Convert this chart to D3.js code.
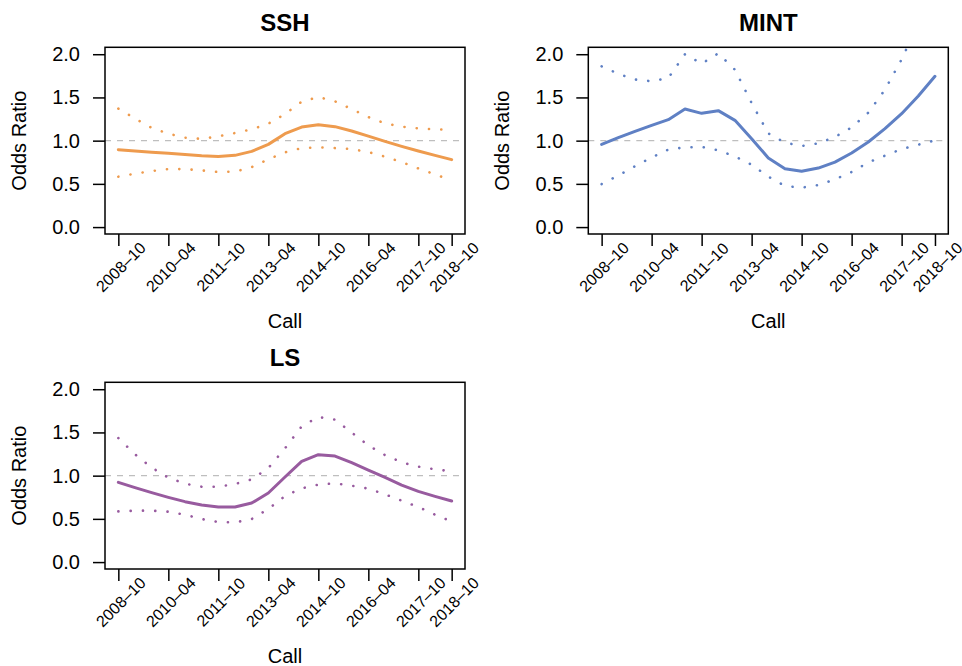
<!DOCTYPE html>
<html lang="en">
<head>
<meta charset="utf-8">
<title>Odds Ratio by Call</title>
<script src="https://cdn.jsdelivr.net/npm/d3@7"></script>
<style>
  body { margin: 0; background: #fff; }
  svg { display: block; font-family: "Liberation Sans", Arial, Helvetica, sans-serif; }
</style>
</head>
<body>
<svg id="chart" width="962" height="666"></svg>
<script>

// calls, every 6 months
const periods = ["2008-10","2009-04","2009-10","2010-04","2010-10","2011-04","2011-10",
  "2012-04","2012-10","2013-04","2013-10","2014-04","2014-10","2015-04","2015-10",
  "2016-04","2016-10","2017-04","2017-10","2018-04","2018-10"];
const tickLabels = ["2008-10","2010-04","2011-10","2013-04","2014-10","2016-04","2017-10","2018-10"];
const yTicks = [0, 0.5, 1, 1.5, 2];

const sshFit   = [0.896,0.880,0.865,0.853,0.841,0.826,0.818,0.830,0.876,0.957,1.081,1.157,1.185,1.162,1.111,1.053,0.992,0.934,0.880,0.830,0.780];
const sshLower = [0.583,0.618,0.648,0.671,0.671,0.656,0.637,0.641,0.694,0.784,0.865,0.914,0.922,0.914,0.903,0.868,0.815,0.752,0.679,0.610,0.540];
const sshUpper = [1.370,1.256,1.148,1.081,1.034,1.020,1.050,1.088,1.131,1.196,1.308,1.451,1.505,1.455,1.366,1.273,1.200,1.162,1.142,1.131,1.127];

const mintFit   = [0.957,1.035,1.108,1.177,1.243,1.366,1.316,1.347,1.235,1.023,0.800,0.676,0.645,0.683,0.752,0.857,0.984,1.139,1.312,1.516,1.744];
const mintLower = [0.498,0.596,0.703,0.805,0.897,0.922,0.928,0.888,0.818,0.722,0.583,0.475,0.456,0.486,0.552,0.637,0.749,0.826,0.903,0.953,1.003];
const mintUpper = [1.860,1.773,1.707,1.687,1.725,2.000,1.890,2.010,1.820,1.435,1.084,0.977,0.938,0.969,1.042,1.154,1.324,1.590,1.940,2.360,2.880];

const lsFit   = [0.922,0.861,0.803,0.749,0.699,0.660,0.637,0.637,0.683,0.799,0.984,1.165,1.243,1.227,1.150,1.065,0.980,0.891,0.818,0.760,0.706];
const lsLower = [0.587,0.595,0.595,0.583,0.548,0.498,0.463,0.459,0.498,0.614,0.764,0.853,0.896,0.911,0.884,0.850,0.784,0.711,0.637,0.549,0.470];
const lsUpper = [1.435,1.247,1.093,0.977,0.907,0.872,0.872,0.903,0.957,1.088,1.316,1.570,1.678,1.648,1.498,1.351,1.238,1.154,1.104,1.073,1.050];

const panels = [
  {name: "SSH",  fit: sshFit,  lo: sshLower,  hi: sshUpper,  col: "#ee9b4e", left: 105,   top: 47.3},
  {name: "MINT", fit: mintFit, lo: mintLower, hi: mintUpper, col: "#5f80c4", left: 588.3, top: 47.3},
  {name: "LS",   fit: lsFit,   lo: lsLower,   hi: lsUpper,   col: "#985b9f", left: 105,   top: 382.3}
];

const boxW = 360, boxH = 186.7;

// "2008-10" -> month number
function toMonth(s) {
  const p = s.split("-");
  return (+p[0]) * 12 + (+p[1]) - 1;
}
const dash = s => s.replace("-", "\u2013");

const svg = d3.select("#chart");

panels.forEach(function(p, pi) {
  const m0 = toMonth(periods[0]), m1 = toMonth(periods[periods.length - 1]);
  const pad = (m1 - m0) * 0.04;
  const x = d3.scaleLinear().domain([m0 - pad, m1 + pad]).range([p.left, p.left + boxW]);
  const y = d3.scaleLinear().domain([-0.08, 2.08]).range([p.top + boxH, p.top]);

  const g = svg.append("g");

  svg.append("clipPath").attr("id", "clip" + pi)
    .append("rect")
    .attr("x", p.left).attr("y", p.top)
    .attr("width", boxW).attr("height", boxH);

  // reference line at 1
  g.append("line")
    .attr("x1", p.left).attr("x2", p.left + boxW)
    .attr("y1", y(1)).attr("y2", y(1))
    .attr("stroke", "#bebebe").attr("stroke-width", 1.3)
    .attr("stroke-dasharray", "6,6");

  const line = d3.line()
    .x((d, i) => x(toMonth(periods[i])))
    .y(d => y(d));

  const plot = g.append("g").attr("clip-path", "url(#clip" + pi + ")");

  [p.lo, p.hi].forEach(function(series) {
    plot.append("path")
      .datum(series)
      .attr("d", line)
      .attr("fill", "none")
      .attr("stroke", p.col)
      .attr("stroke-width", 2.6)
      .attr("stroke-linecap", "round")
      .attr("stroke-dasharray", "0.1,12.2");
  });

  plot.append("path")
    .datum(p.fit)
    .attr("d", line)
    .attr("fill", "none")
    .attr("stroke", p.col)
    .attr("stroke-width", 3)
    .attr("stroke-linejoin", "round")
    .attr("stroke-linecap", "round");

  // box
  g.append("rect")
    .attr("x", p.left).attr("y", p.top)
    .attr("width", boxW).attr("height", boxH)
    .attr("fill", "none").attr("stroke", "#000").attr("stroke-width", 1.5);

  // y axis
  const ya = g.append("g")
    .attr("transform", "translate(" + p.left + ",0)")
    .call(d3.axisLeft(y).tickValues(yTicks).tickSize(12).tickSizeOuter(0)
      .tickPadding(13).tickFormat(d3.format(".1f")));
  ya.select(".domain").remove();
  ya.selectAll("line").attr("stroke", "#000").attr("stroke-width", 1.5);
  ya.selectAll("text").attr("fill", "#000")
    .style("font-size", "20px").style("font-family", "Liberation Sans, Arial, sans-serif");

  // x axis
  const xa = g.append("g")
    .attr("transform", "translate(0," + (p.top + boxH) + ")")
    .call(d3.axisBottom(x).tickValues(tickLabels.map(toMonth)).tickSize(12).tickSizeOuter(0)
      .tickFormat((d, i) => dash(tickLabels[i])));
  xa.select(".domain").remove();
  xa.selectAll("line").attr("stroke", "#000").attr("stroke-width", 1.5);
  xa.selectAll("text")
    .attr("y", null).attr("dy", "0.35em")
    .attr("text-anchor", "middle")
    .attr("transform", "translate(2,33) rotate(-45)")
    .attr("fill", "#000")
    .style("font-size", "16px").style("font-family", "Liberation Sans, Arial, sans-serif");

  const cx = p.left + boxW / 2;

  g.append("text")
    .attr("x", cx).attr("y", p.top - 16.6)
    .attr("text-anchor", "middle")
    .style("font-size", "24px").style("font-weight", "bold")
    .text(p.name);

  g.append("text")
    .attr("x", cx).attr("y", p.top + boxH + 94)
    .attr("text-anchor", "middle")
    .style("font-size", "20px")
    .text("Call");

  g.append("text")
    .attr("transform", "translate(" + (p.left - 79) + "," + (p.top + boxH / 2) + ") rotate(-90)")
    .attr("text-anchor", "middle")
    .style("font-size", "20px")
    .text("Odds Ratio");
});

</script>
</body>
</html>
